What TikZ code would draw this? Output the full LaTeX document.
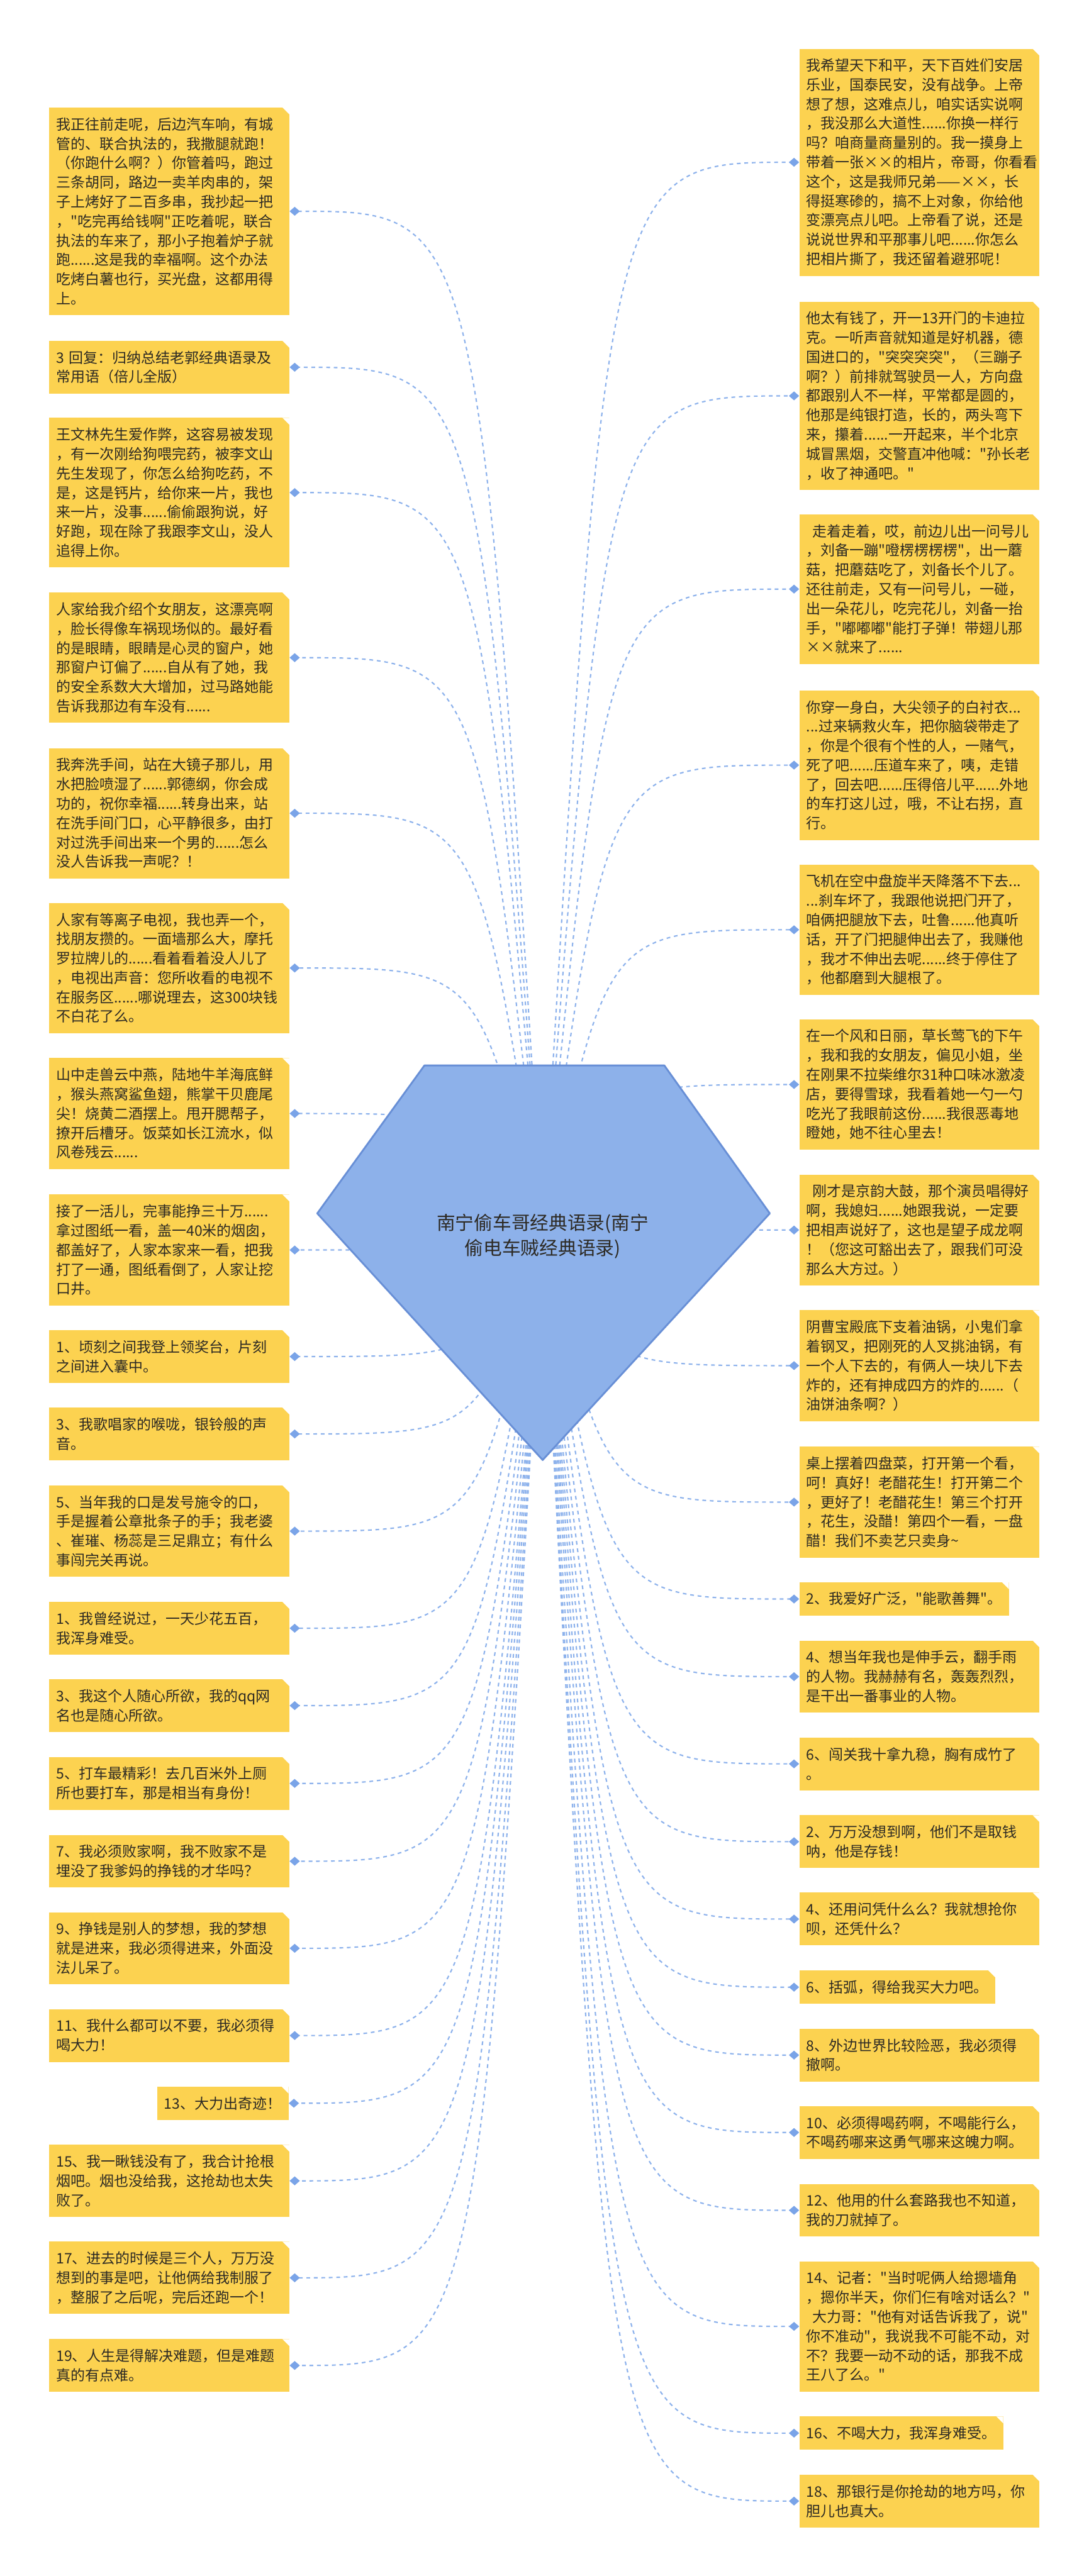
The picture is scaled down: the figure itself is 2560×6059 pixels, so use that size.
\documentclass[tikz,border=0pt]{standalone}
\usepackage{fontspec}
\setmainfont{Noto Sans CJK SC}[Ligatures=TeXOff]
\usetikzlibrary{arrows.meta,backgrounds}

\definecolor{boxyellow}{RGB}{252,210,80}
\definecolor{inktext}{RGB}{45,42,36}
\definecolor{linkblue}{RGB}{141,178,236}
\definecolor{tipblue}{RGB}{122,164,232}
\definecolor{rootfill}{RGB}{141,177,234}
\definecolor{rootline}{RGB}{104,143,214}
\newcommand\quotefont{\fontsize{9.67pt}{12.95pt}\selectfont}
\newcommand\rootfont{\fontsize{12.5pt}{16.5pt}\selectfont}

\tikzset{
  quote/.style={fill=boxyellow, text=inktext, font=\quotefont, align=left,
    inner xsep=1.66mm, inner ysep=2pt,
    path picture={\fill[white] ([xshift=-1.6mm]path picture bounding box.north east)
      -- (path picture bounding box.north east)
      -- ([yshift=-1.6mm]path picture bounding box.north east) -- cycle;}},
  wide/.style={quote, text width=53.1mm},
  nrows/.style={minimum height=#1*12.95pt+9.39pt},
  link/.style={draw=linkblue, line width=0.9pt, dash pattern=on 2.5pt off 2.5pt,
    -{Diamond[length=2.4mm,width=2.1mm,color=tipblue]}},
  rootbox/.style={text=inktext, font=\rootfont, align=center},
}

\begin{document}
\begin{tikzpicture}[x=0.01cm,y=-0.01cm]
	\useasboundingbox (0,0) rectangle (2560,6059);
	% centre
	\node[rootbox] (root) at (1276,2908) {南宁偷车哥经典语录(南宁\\偷电车贼经典语录)};
	\coordinate (lc) at (1126,2908);
	\coordinate (rc) at (1426,2908);
	% left column
	\node[wide,nrows=10,anchor=north west] (l1) at (115,252) {我正往前走呢，后边汽车响，有城\\管的、联合执法的，我撒腿就跑！\\（你跑什么啊？）你管着吗，跑过\\三条胡同，路边一卖羊肉串的，架\\子上烤好了二百多串，我抄起一把\\，"吃完再给钱啊"正吃着呢，联合\\执法的车来了，那小子抱着炉子就\\跑......这是我的幸福啊。这个办法\\吃烤白薯也行，买光盘，这都用得\\上。};
	\node[wide,nrows=2,anchor=north west] (l2) at (115,801) {3 回复：归纳总结老郭经典语录及\\常用语（倍儿全版）};
	\node[wide,nrows=7,anchor=north west] (l3) at (115,982) {王文林先生爱作弊，这容易被发现\\，有一次刚给狗喂完药，被李文山\\先生发现了，你怎么给狗吃药，不\\是，这是钙片，给你来一片，我也\\来一片，没事......偷偷跟狗说，好\\好跑，现在除了我跟李文山，没人\\追得上你。};
	\node[wide,nrows=6,anchor=north west] (l4) at (115,1393) {人家给我介绍个女朋友，这漂亮啊\\，脸长得像车祸现场似的。最好看\\的是眼睛，眼睛是心灵的窗户，她\\那窗户订偏了......自从有了她，我\\的安全系数大大增加，过马路她能\\告诉我那边有车没有......};
	\node[wide,nrows=6,anchor=north west] (l5) at (115,1759) {我奔洗手间，站在大镜子那儿，用\\水把脸喷湿了......郭德纲，你会成\\功的，祝你幸福......转身出来，站\\在洗手间门口，心平静很多，由打\\对过洗手间出来一个男的......怎么\\没人告诉我一声呢？！};
	\node[wide,nrows=6,anchor=north west] (l6) at (115,2123) {人家有等离子电视，我也弄一个，\\找朋友攒的。一面墙那么大，摩托\\罗拉牌儿的......看着看着没人儿了\\，电视出声音：您所收看的电视不\\在服务区......哪说理去，这300块钱\\不白花了么。};
	\node[wide,nrows=5,anchor=north west] (l7) at (115,2488) {山中走兽云中燕，陆地牛羊海底鲜\\，猴头燕窝鲨鱼翅，熊掌干贝鹿尾\\尖！烧黄二酒摆上。甩开腮帮子，\\撩开后槽牙。饭菜如长江流水，似\\风卷残云......};
	\node[wide,nrows=5,anchor=north west] (l8) at (115,2809) {接了一活儿，完事能挣三十万......\\拿过图纸一看，盖一40米的烟囱，\\都盖好了，人家本家来一看，把我\\打了一通，图纸看倒了，人家让挖\\口井。};
	\node[wide,nrows=2,anchor=north west] (l9) at (115,3128) {1、顷刻之间我登上领奖台，片刻\\之间进入囊中。};
	\node[wide,nrows=2,anchor=north west] (l10) at (115,3310) {3、我歌唱家的喉咙，银铃般的声\\音。};
	\node[wide,nrows=4,anchor=north west] (l11) at (115,3493) {5、当年我的口是发号施令的口，\\手是握着公章批条子的手；我老婆\\、崔璀、杨蕊是三足鼎立；有什么\\事闯完关再说。};
	\node[wide,nrows=2,anchor=north west] (l12) at (115,3767) {1、我曾经说过，一天少花五百，\\我浑身难受。};
	\node[wide,nrows=2,anchor=north west] (l13) at (115,3949) {3、我这个人随心所欲，我的qq网\\名也是随心所欲。};
	\node[wide,nrows=2,anchor=north west] (l14) at (115,4132) {5、打车最精彩！去几百米外上厕\\所也要打车，那是相当有身份！};
	\node[wide,nrows=2,anchor=north west] (l15) at (115,4315) {7、我必须败家啊，我不败家不是\\埋没了我爹妈的挣钱的才华吗？};
	\node[wide,nrows=3,anchor=north west] (l16) at (115,4497) {9、挣钱是别人的梦想，我的梦想\\就是进来，我必须得进来，外面没\\法儿呆了。};
	\node[wide,nrows=2,anchor=north west] (l17) at (115,4725) {11、我什么都可以不要，我必须得\\喝大力！};
	\node[quote,nrows=1,anchor=north east] (l18) at (679,4907) {13、大力出奇迹！};
	\node[wide,nrows=3,anchor=north west] (l19) at (115,5044) {15、我一瞅钱没有了，我合计抢根\\烟吧。烟也没给我，这抢劫也太失\\败了。};
	\node[wide,nrows=3,anchor=north west] (l20) at (115,5272) {17、进去的时候是三个人，万万没\\想到的事是吧，让他俩给我制服了\\，整服了之后呢，完后还跑一个！};
	\node[wide,nrows=2,anchor=north west] (l21) at (115,5501) {19、人生是得解决难题，但是难题\\真的有点难。};
	% right column
	\node[wide,nrows=11,anchor=north west] (r1) at (1879,114) {我希望天下和平，天下百姓们安居\\乐业，国泰民安，没有战争。上帝\\想了想，这难点儿，咱实话实说啊\\，我没那么大道性......你换一样行\\吗？咱商量商量别的。我一摸身上\\带着一张××的相片，帝哥，你看看\\这个，这是我师兄弟——××，长\\得挺寒碜的，搞不上对象，你给他\\变漂亮点儿吧。上帝看了说，还是\\说说世界和平那事儿吧......你怎么\\把相片撕了，我还留着避邪呢！};
	\node[wide,nrows=9,anchor=north west] (r2) at (1879,709) {他太有钱了，开一13开门的卡迪拉\\克。一听声音就知道是好机器，德\\国进口的，"突突突突"，（三蹦子\\啊？）前排就驾驶员一人，方向盘\\都跟别人不一样，平常都是圆的，\\他那是纯银打造，长的，两头弯下\\来，攥着......一开起来，半个北京\\城冒黑烟，交警直冲他喊："孙长老\\，收了神通吧。"};
	\node[wide,nrows=7,anchor=north west] (r3) at (1879,1209) {\hspace*{0.4em}走着走着，哎，前边儿出一问号儿\\，刘备一蹦"噔楞楞楞楞"，出一蘑\\菇，把蘑菇吃了，刘备长个儿了。\\还往前走，又有一问号儿，一碰，\\出一朵花儿，吃完花儿，刘备一抬\\手，"嘟嘟嘟"能打子弹！带翅儿那\\××就来了......};
	\node[wide,nrows=7,anchor=north west] (r4) at (1879,1623) {你穿一身白，大尖领子的白衬衣...\\...过来辆救火车，把你脑袋带走了\\，你是个很有个性的人，一赌气，\\死了吧......压道车来了，咦，走错\\了，回去吧......压得倍儿平......外地\\的车打这儿过，哦，不让右拐，直\\行。};
	\node[wide,nrows=6,anchor=north west] (r5) at (1879,2033) {飞机在空中盘旋半天降落不下去...\\...刹车坏了，我跟他说把门开了，\\咱俩把腿放下去，吐鲁......他真听\\话，开了门把腿伸出去了，我赚他\\，我才不伸出去呢......终于停住了\\，他都磨到大腿根了。};
	\node[wide,nrows=6,anchor=north west] (r6) at (1879,2397) {在一个风和日丽，草长莺飞的下午\\，我和我的女朋友，偏见小姐，坐\\在刚果不拉柴维尔31种口味冰激凌\\店，要得雪球，我看着她一勺一勺\\吃光了我眼前这份......我很恶毒地\\瞪她，她不往心里去！};
	\node[wide,nrows=5,anchor=north west] (r7) at (1879,2762) {\hspace*{0.4em}刚才是京韵大鼓，那个演员唱得好\\啊，我媳妇......她跟我说，一定要\\把相声说好了，这也是望子成龙啊\\！（您这可豁出去了，跟我们可没\\那么大方过。）};
	\node[wide,nrows=5,anchor=north west] (r8) at (1879,3081) {阴曹宝殿底下支着油锅，小鬼们拿\\着钢叉，把刚死的人叉挑油锅，有\\一个人下去的，有俩人一块儿下去\\炸的，还有抻成四方的炸的......（\\油饼油条啊？）};
	\node[wide,nrows=5,anchor=north west] (r9) at (1879,3402) {桌上摆着四盘菜，打开第一个看，\\呵！真好！老醋花生！打开第二个\\，更好了！老醋花生！第三个打开\\，花生，没醋！第四个一看，一盘\\醋！我们不卖艺只卖身\textasciitilde};
	\node[quote,nrows=1,anchor=north west] (r10) at (1879,3721) {2、我爱好广泛，"能歌善舞"。};
	\node[wide,nrows=3,anchor=north west] (r11) at (1879,3858) {4、想当年我也是伸手云，翻手雨\\的人物。我赫赫有名，轰轰烈烈，\\是干出一番事业的人物。};
	\node[wide,nrows=2,anchor=north west] (r12) at (1879,4086) {6、闯关我十拿九稳，胸有成竹了\\。};
	\node[wide,nrows=2,anchor=north west] (r13) at (1879,4269) {2、万万没想到啊，他们不是取钱\\呐，他是存钱！};
	\node[wide,nrows=2,anchor=north west] (r14) at (1879,4451) {4、还用问凭什么么？我就想抢你\\呗，还凭什么？};
	\node[quote,nrows=1,anchor=north west] (r15) at (1879,4634) {6、括弧，得给我买大力吧。};
	\node[wide,nrows=2,anchor=north west] (r16) at (1879,4771) {8、外边世界比较险恶，我必须得\\撤啊。};
	\node[wide,nrows=2,anchor=north west] (r17) at (1879,4953) {10、必须得喝药啊，不喝能行么，\\不喝药哪来这勇气哪来这魄力啊。};
	\node[wide,nrows=2,anchor=north west] (r18) at (1879,5136) {12、他用的什么套路我也不知道，\\我的刀就掉了。};
	\node[wide,nrows=6,anchor=north west] (r19) at (1879,5318) {14、记者："当时呢俩人给摁墙角\\，摁你半天，你们仨有啥对话么？"\\\hspace*{0.4em}大力哥："他有对话告诉我了，说"\\你不准动"，我说我不可能不动，对\\不？我要一动不动的话，那我不成\\王八了么。"};
	\node[quote,nrows=1,anchor=north west] (r20) at (1879,5683) {16、不喝大力，我浑身难受。};
	\node[wide,nrows=2,anchor=north west] (r21) at (1879,5820) {18、那银行是你抢劫的地方吗，你\\胆儿也真大。};
	\begin{scope}[on background layer]
	\fill[white] (0,0) rectangle (2560,6059);
	% links, left side
	\draw[link] (root.center) .. controls (lc |- l1.east) .. (l1.east);
	\draw[link] (root.center) .. controls (lc |- l2.east) .. (l2.east);
	\draw[link] (root.center) .. controls (lc |- l3.east) .. (l3.east);
	\draw[link] (root.center) .. controls (lc |- l4.east) .. (l4.east);
	\draw[link] (root.center) .. controls (lc |- l5.east) .. (l5.east);
	\draw[link] (root.center) .. controls (lc |- l6.east) .. (l6.east);
	\draw[link] (root.center) .. controls (lc |- l7.east) .. (l7.east);
	\draw[link] (root.center) .. controls (lc |- l8.east) .. (l8.east);
	\draw[link] (root.center) .. controls (lc |- l9.east) .. (l9.east);
	\draw[link] (root.center) .. controls (lc |- l10.east) .. (l10.east);
	\draw[link] (root.center) .. controls (lc |- l11.east) .. (l11.east);
	\draw[link] (root.center) .. controls (lc |- l12.east) .. (l12.east);
	\draw[link] (root.center) .. controls (lc |- l13.east) .. (l13.east);
	\draw[link] (root.center) .. controls (lc |- l14.east) .. (l14.east);
	\draw[link] (root.center) .. controls (lc |- l15.east) .. (l15.east);
	\draw[link] (root.center) .. controls (lc |- l16.east) .. (l16.east);
	\draw[link] (root.center) .. controls (lc |- l17.east) .. (l17.east);
	\draw[link] (root.center) .. controls (lc |- l18.east) .. (l18.east);
	\draw[link] (root.center) .. controls (lc |- l19.east) .. (l19.east);
	\draw[link] (root.center) .. controls (lc |- l20.east) .. (l20.east);
	\draw[link] (root.center) .. controls (lc |- l21.east) .. (l21.east);
	% links, right side
	\draw[link] (root.center) .. controls (rc |- r1.west) .. (r1.west);
	\draw[link] (root.center) .. controls (rc |- r2.west) .. (r2.west);
	\draw[link] (root.center) .. controls (rc |- r3.west) .. (r3.west);
	\draw[link] (root.center) .. controls (rc |- r4.west) .. (r4.west);
	\draw[link] (root.center) .. controls (rc |- r5.west) .. (r5.west);
	\draw[link] (root.center) .. controls (rc |- r6.west) .. (r6.west);
	\draw[link] (root.center) .. controls (rc |- r7.west) .. (r7.west);
	\draw[link] (root.center) .. controls (rc |- r8.west) .. (r8.west);
	\draw[link] (root.center) .. controls (rc |- r9.west) .. (r9.west);
	\draw[link] (root.center) .. controls (rc |- r10.west) .. (r10.west);
	\draw[link] (root.center) .. controls (rc |- r11.west) .. (r11.west);
	\draw[link] (root.center) .. controls (rc |- r12.west) .. (r12.west);
	\draw[link] (root.center) .. controls (rc |- r13.west) .. (r13.west);
	\draw[link] (root.center) .. controls (rc |- r14.west) .. (r14.west);
	\draw[link] (root.center) .. controls (rc |- r15.west) .. (r15.west);
	\draw[link] (root.center) .. controls (rc |- r16.west) .. (r16.west);
	\draw[link] (root.center) .. controls (rc |- r17.west) .. (r17.west);
	\draw[link] (root.center) .. controls (rc |- r18.west) .. (r18.west);
	\draw[link] (root.center) .. controls (rc |- r19.west) .. (r19.west);
	\draw[link] (root.center) .. controls (rc |- r20.west) .. (r20.west);
	\draw[link] (root.center) .. controls (rc |- r21.west) .. (r21.west);
	% the gem behind the title
	\filldraw[fill=rootfill, draw=rootline, line width=1.2pt, line join=round]
		(998,2506) -- (1562,2506) -- (1810,2854) -- (1276,3434) -- (746,2854) -- cycle;
	\end{scope}
\end{tikzpicture}
\end{document}
